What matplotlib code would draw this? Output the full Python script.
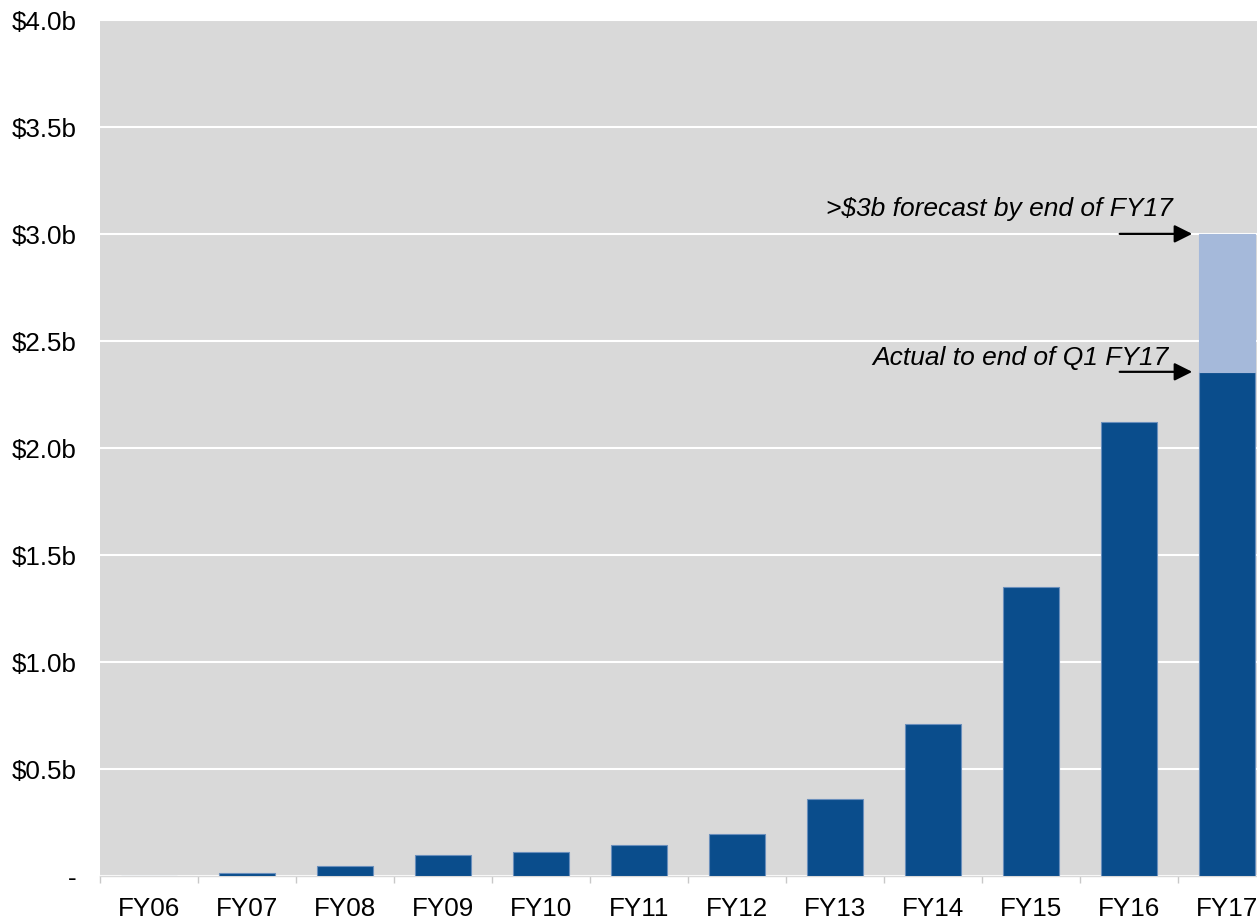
import matplotlib
matplotlib.use("Agg")
import matplotlib.pyplot as plt
import numpy as np

plt.rcParams['font.family'] = ['Liberation Sans', 'DejaVu Sans']

years = ['FY06', 'FY07', 'FY08', 'FY09', 'FY10', 'FY11',
         'FY12', 'FY13', 'FY14', 'FY15', 'FY16', 'FY17']
# cumulative value in $b, actuals
actual = [0.0, 0.01, 0.043, 0.094, 0.110, 0.144,
          0.195, 0.357, 0.707, 1.35, 2.12, 2.355]
# forecast total for the final year
forecast_total = 3.0
y_ticks = [0, 0.5, 1.0, 1.5, 2.0, 2.5, 3.0, 3.5, 4.0]

dark = '#0a4d8c'
light = '#a5b9da'
edge = '#6a8fbc'
bg = '#d9d9d9'

fig = plt.figure(figsize=(12.57, 9.2), dpi=100)
ax = fig.add_axes([100 / 1257, 43.5 / 920, 1176 / 1257, 855.5 / 920])
ax.set_facecolor(bg)

x = np.arange(len(years))
bw = 0.57
ax.bar(x, actual, width=bw, color=dark, edgecolor=edge, linewidth=0.8, zorder=3)
extra = forecast_total - actual[-1]
ax.bar(x[-1], extra, bottom=actual[-1], width=bw, color=light,
       edgecolor=light, linewidth=0.8, zorder=3)

ax.set_xlim(-0.5, len(years) - 0.5)
ax.set_ylim(0, 4.0)
ax.set_yticks(y_ticks)
ax.set_yticklabels(['-' if v == 0 else f'${v:.1f}b' for v in y_ticks])
ax.set_xticks(x)
ax.set_xticklabels(years)
ax.set_xticks(np.arange(-0.5, len(years)), minor=True)

ax.yaxis.grid(True, color='white', linewidth=1.5, zorder=1)
ax.set_axisbelow(True)
for s in ['top', 'right', 'left']:
    ax.spines[s].set_visible(False)
ax.spines['bottom'].set_color(bg)
ax.spines['bottom'].set_linewidth(1)

ax.tick_params(axis='y', length=0, pad=17, labelsize=18.7)
ax.tick_params(axis='x', which='major', length=0, pad=14.5, labelsize=18.7)
ax.tick_params(axis='x', which='minor', length=5, width=1, color='#c8c8c8')

# arrows pointing at the last bar
tip = x[-1] - bw / 2 - 0.07
tail = tip - 0.74
arrow = dict(arrowstyle='-|>,head_length=0.72,head_width=0.36',
             color='black', lw=1.6, mutation_scale=15, shrinkA=0, shrinkB=0)
ax.annotate('', xy=(tip, forecast_total), xytext=(tail, forecast_total),
            arrowprops=arrow, zorder=4)
ax.annotate('', xy=(tip, actual[-1]), xytext=(tail, actual[-1]),
            arrowprops=arrow, zorder=4)
ax.text(tip - 0.2, forecast_total + 0.12, '>$3b forecast by end of FY17',
        ha='right', va='center', fontsize=19, style='italic')
ax.text(tip - 0.24, actual[-1] + 0.067, 'Actual to end of Q1 FY17',
        ha='right', va='center', fontsize=19, style='italic')

fig.savefig('out.png', dpi=100)
